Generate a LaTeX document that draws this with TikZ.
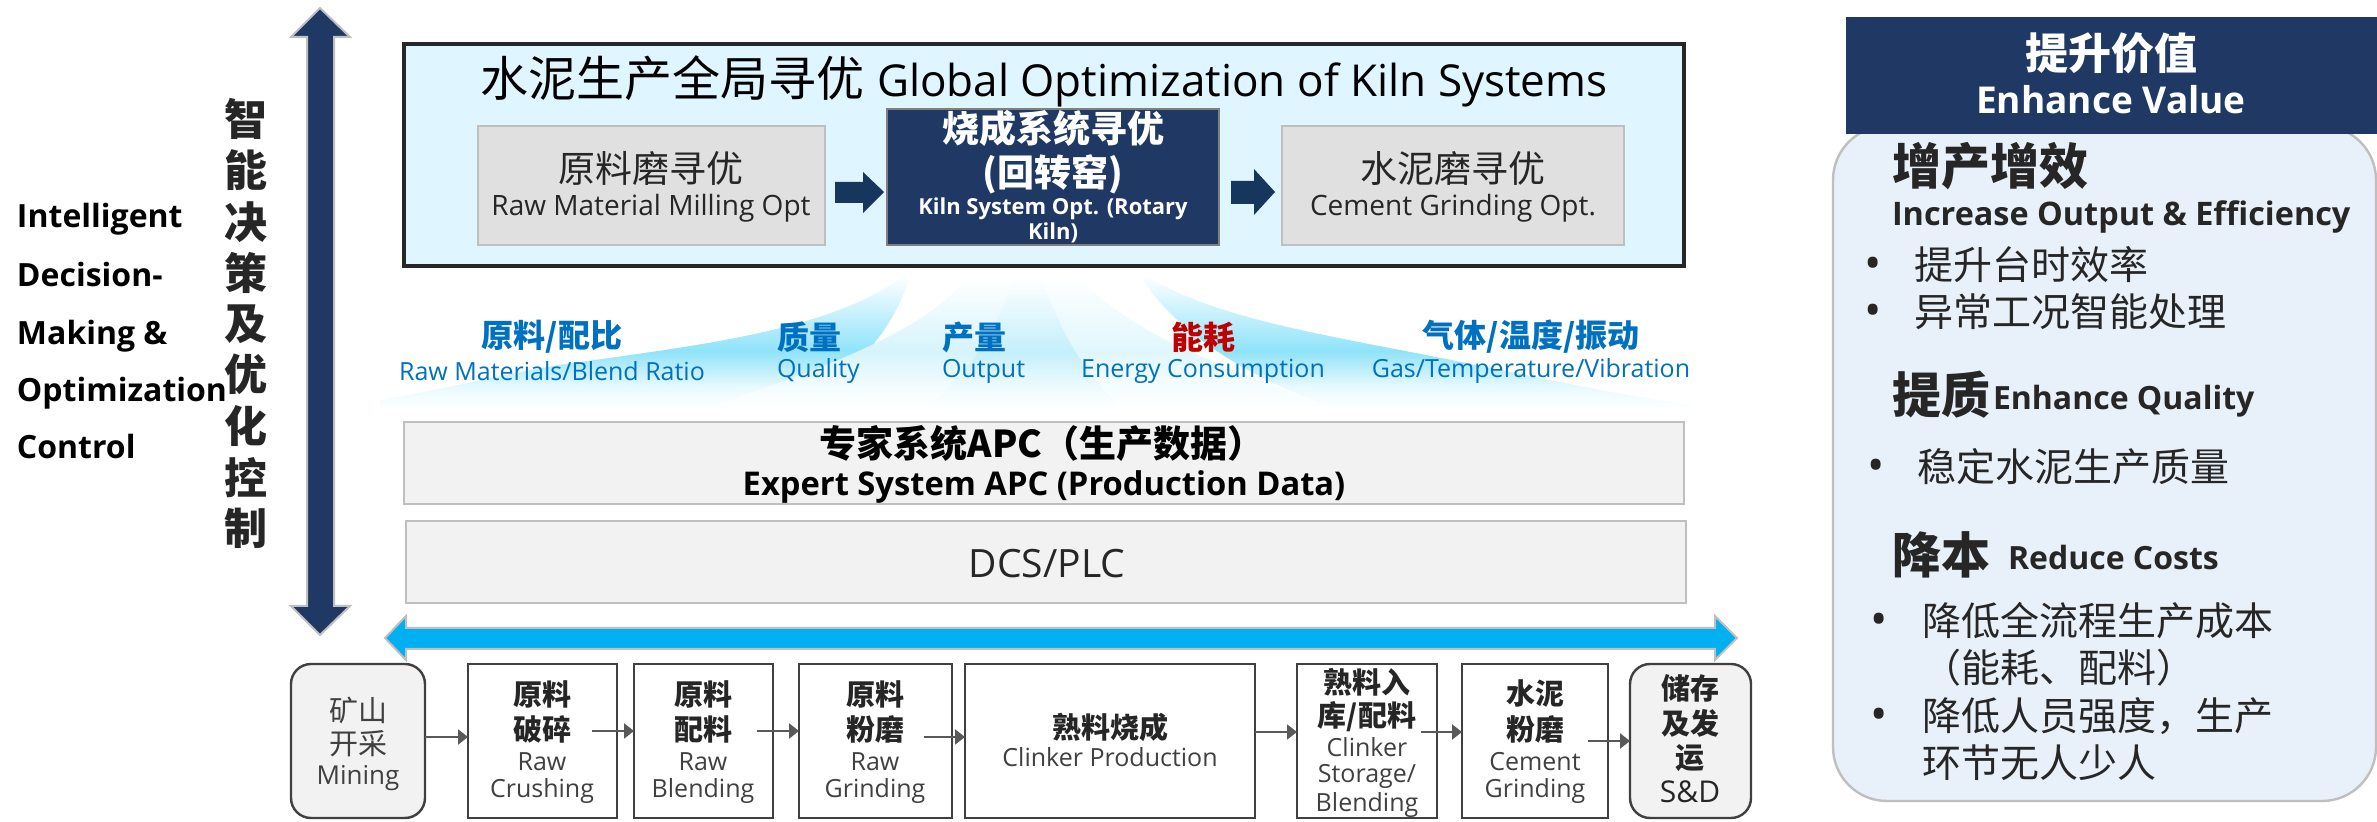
\documentclass[tikz,border=0pt]{standalone}
\usepackage{fontspec}
\setmainfont{Open Sans}
\newfontfamily\cjk{Noto Sans CJK SC}
\usetikzlibrary{arrows.meta,calc}
\definecolor{navy}{HTML}{1F3864}
\definecolor{navyb}{HTML}{17365D}
\definecolor{cyanb}{HTML}{00B0F0}
\definecolor{labblue}{HTML}{0070C0}
\definecolor{labred}{HTML}{C00000}
\definecolor{grayb}{HTML}{BFBFBF}
\definecolor{dark}{HTML}{262626}
\definecolor{mid}{HTML}{404040}
\definecolor{flowc}{HTML}{595959}
\definecolor{skyfill}{HTML}{DFF5FF}
\definecolor{greyf}{HTML}{E0E0E0}
\definecolor{layerf}{HTML}{F2F2F2}
\definecolor{navyedge}{HTML}{7F7F7F}
\definecolor{panelf}{HTML}{E8F0FA}
\definecolor{fana}{HTML}{8FE3FA}
\definecolor{fanalow}{HTML}{EAFAFE}
\definecolor{fanb}{HTML}{D6F4FC}
\definecolor{fanblow}{HTML}{F4FCFE}
\definecolor{fanc}{HTML}{C4EFFB}
\definecolor{fanclow}{HTML}{EFFBFE}
\definecolor{fand}{HTML}{E0F7FD}
\definecolor{fandlow}{HTML}{F6FDFE}
\newcommand\FANSH[3]{\pgfdeclareverticalshading{#1}{100bp}{color(0bp)=(white); color(25bp)=(white); color(33bp)=(#3); color(46bp)=(#2); color(73bp)=(white); color(100bp)=(white)}}
\FANSH{shfana}{fana}{fanalow}
\FANSH{shfanb}{fanb}{fanblow}
\FANSH{shfanc}{fanc}{fanclow}
\FANSH{shfand}{fand}{fandlow}
\newcommand\px[1]{\pgfmathsetmacro\fsv{#1/2}\fontsize{\fsv}{\fsv}\selectfont}
\newcommand\zh[1]{{\cjk #1}}
\newcommand\zb[1]{{\cjk\bfseries #1}}
% name, x, y, size, colour, text
\newcommand\TC[6]{\node[txt,text=#5] (#1) at (#2,#3) {\px{#4}#6};}
\newcommand\TL[6]{\node[txt,anchor=west,text=#5] (#1) at (#2,#3) {\px{#4}#6};}
% name, x1, y1, x2, y2, style
\newcommand\BX[6]{\node[#6,minimum width={(#4-#2)*0.5pt},minimum height={(#5-#3)*0.5pt}] (#1) at ({(#2+#4)/2},{(#3+#5)/2}) {};}
\tikzset{
  txt/.style={inner sep=0pt,outer sep=0pt},
  base/.style={rectangle,inner sep=0pt,outer sep=0pt},
  mainbox/.style={base,draw=dark,line width=2pt,fill=skyfill},
  greybox/.style={base,draw=grayb,line width=1.2pt,fill=greyf},
  navybox/.style={base,draw=navyedge,line width=1.2pt,fill=navy},
  layerbox/.style={base,draw=grayb,line width=1.2pt,fill=layerf},
  stepbox/.style={base,draw=mid,line width=1.2pt,fill=white},
  endbox/.style={base,draw=mid,line width=1.2pt,fill=layerf,rounded corners=10pt},
  flow/.style={draw=flowc,line width=1.2pt,-{Triangle[length=5pt,width=7.5pt]}},
}
\begin{document}
\begin{tikzpicture}[x=0.5pt,y=-0.5pt]
\useasboundingbox (0,0) rectangle (2377,822);
\fill[white] (0,0) rectangle (2377,822);

% fans
\shade[shading=shfana]
  (911,270) .. controls (840,330) and (700,345) .. (559,365)
  .. controls (500,375) and (440,390) .. (380,400) -- (380,410) -- (800,410)
  .. controls (860,370) and (900,320) .. (911,270) -- cycle;
\shade[shading=shfana]
  (1137,270) .. controls (1210,320) and (1330,335) .. (1476,365)
  .. controls (1550,380) and (1620,395) .. (1690,405) -- (1690,410) -- (1340,410)
  .. controls (1250,380) and (1170,330) .. (1137,270) -- cycle;
\shade[shading=shfanb]
  (969,275) .. controls (930,330) and (820,370) .. (701,410) -- (925,410)
  .. controls (970,370) and (1000,330) .. (1014,272) -- cycle;
\shade[shading=shfanc]
  (1014,272) .. controls (1000,330) and (970,370) .. (925,410) -- (1124,410)
  .. controls (1080,370) and (1055,320) .. (1041,272) -- cycle;
\shade[shading=shfand]
  (1075,272) .. controls (1130,340) and (1240,370) .. (1334,410) -- (1124,410)
  .. controls (1080,370) and (1055,320) .. (1041,272) -- cycle;

% vertical double arrow
\draw[fill=navy,draw=grayb,line width=1pt]
  (320,8) -- (350,37) -- (334,37) -- (334,606) -- (350,606) -- (320,635)
  -- (291,606) -- (307,606) -- (307,37) -- (291,37) -- cycle;

% left captions
\TL{en1}{17}{219}{32}{black}{\bfseries Intelligent}
\TL{en2}{17}{275}{32}{black}{\bfseries Decision-}
\TL{en3}{17}{336}{32}{black}{\bfseries Making \&}
\TL{en4}{17}{393}{32}{black}{\bfseries Optimization}
\TL{en5}{17}{447}{32}{black}{\bfseries Control}
\TC{v1}{246}{119}{43}{dark}{\zb{智}}
\TC{v2}{246}{170}{43}{dark}{\zb{能}}
\TC{v3}{246}{222}{43}{dark}{\zb{决}}
\TC{v4}{246}{273}{43}{dark}{\zb{策}}
\TC{v5}{246}{324}{43}{dark}{\zb{及}}
\TC{v6}{246}{374}{43}{dark}{\zb{优}}
\TC{v7}{246}{426}{43}{dark}{\zb{化}}
\TC{v8}{246}{478}{43}{dark}{\zb{控}}
\TC{v9}{246}{528}{43}{dark}{\zb{制}}

% main box
\BX{kiln}{404}{44}{1684}{266}{mainbox}
\TC{title}{1044}{81}{48}{black}{\zh{水泥生产全局寻优} {\px{44}Global Optimization of Kiln Systems}}
\BX{raw}{478}{126}{825}{245}{greybox}
\BX{rot}{887}{109}{1219}{245}{navybox}
\BX{cem}{1282}{126}{1624}{245}{greybox}
\TC{rawa}{651}{169}{37}{dark}{\zh{原料磨寻优}}
\TC{rawb}{651}{208}{28}{dark}{Raw Material Milling Opt}
\TC{rota}{1053}{128}{37}{white}{\zb{烧成系统寻优}}
\TC{rotb}{1053}{174}{37}{white}{\zb{(回转窑)}}
\TC{rotc}{1053}{209}{22}{white}{\bfseries Kiln System Opt. (Rotary}
\TC{rotd}{1053}{233}{22}{white}{\bfseries Kiln)}
\TC{cema}{1453}{169}{37}{dark}{\zh{水泥磨寻优}}
\TC{cemb}{1453}{208}{28}{dark}{Cement Grinding Opt.}
\fill[navyb] (835,182) -- (863,182) -- (863,172) -- (884,192) -- (863,213) -- (863,203) -- (835,203) -- cycle;
\fill[navyb] (1231,181) -- (1254,181) -- (1254,169) -- (1275,192) -- (1254,215) -- (1254,204) -- (1231,204) -- cycle;

% category labels
\TC{c1a}{552}{337}{32}{labblue}{\zb{原料/配比}}
\TC{c1b}{552}{371}{25}{labblue}{Raw Materials/Blend Ratio}
\TL{c2a}{777}{337}{32}{labblue}{\zb{质量}}
\TL{c2b}{777}{371}{25}{labblue}{Quality}
\TL{c3a}{942}{337}{32}{labblue}{\zb{产量}}
\TL{c3b}{942}{371}{25}{labblue}{Output}
\TC{c4a}{1203}{337}{32}{labred}{\zb{能耗}}
\TC{c4b}{1203}{371}{25}{labblue}{Energy Consumption}
\TC{c5a}{1531}{337}{32}{labblue}{\zb{气体/温度/振动}}
\TC{c5b}{1531}{371}{25}{labblue}{Gas/Temperature/Vibration}

% layers
\BX{apc}{404}{422}{1684}{504}{layerbox}
\TC{apca}{1042}{443}{37}{black}{\zb{专家系统APC（生产数据）}}
\TC{apcb}{1044}{487}{32.7}{black}{\bfseries Expert System APC (Production Data)}
\BX{dcs}{406}{521}{1686}{603}{layerbox}
\TC{dcsa}{1047}{564}{39}{dark}{DCS/PLC}

% cyan double arrow
\draw[fill=cyanb,draw=grayb,line width=1pt]
  (385,638) -- (406,616) -- (406,628) -- (1715,628) -- (1715,616) -- (1737,638)
  -- (1715,660) -- (1715,649) -- (406,649) -- (406,660) -- cycle;

% process steps
\BX{s1}{291}{664}{425}{818}{endbox}
\BX{s2}{468}{664}{617}{818}{stepbox}
\BX{s3}{634}{664}{773}{818}{stepbox}
\BX{s4}{799}{664}{952}{818}{stepbox}
\BX{s5}{965}{664}{1255}{818}{stepbox}
\BX{s6}{1297}{664}{1437}{818}{stepbox}
\BX{s7}{1462}{664}{1608}{818}{stepbox}
\BX{s8}{1630}{664}{1751}{818}{endbox}
\draw[flow] ($(s1.east)+(0,-4)$) -- ($(s2.west)+(0,-4)$);
\draw[flow] ($(s2.east)+(-25,-10)$) -- ($(s3.west)+(0,-10)$);
\draw[flow] ($(s3.east)+(-16,-10)$) -- ($(s4.west)+(0,-10)$);
\draw[flow] ($(s4.east)+(-28,-4)$) -- ($(s5.west)+(0,-4)$);
\draw[flow] ($(s5.east)+(0,-9)$) -- ($(s6.west)+(0,-9)$);
\draw[flow] ($(s6.east)+(-16,-9)$) -- ($(s7.west)+(0,-9)$);
\draw[flow] ($(s7.east)+(-20,0)$) -- ($(s8.west)+(0,0)$);

\TC{s1a}{358}{710}{29}{mid}{\zh{矿山}}
\TC{s1b}{358}{744}{29}{mid}{\zh{开采}}
\TC{s1c}{358}{778}{26}{mid}{Mining}
\TC{s2a}{542}{694}{29}{dark}{\zb{原料}}
\TC{s2b}{542}{729}{29}{dark}{\zb{破碎}}
\TC{s2c}{542}{762}{25}{mid}{Raw}
\TC{s2d}{542}{791}{25}{mid}{Crushing}
\TC{s3a}{703}{694}{29}{dark}{\zb{原料}}
\TC{s3b}{703}{729}{29}{dark}{\zb{配料}}
\TC{s3c}{703}{762}{25}{mid}{Raw}
\TC{s3d}{703}{791}{25}{mid}{Blending}
\TC{s4a}{875}{694}{29}{dark}{\zb{原料}}
\TC{s4b}{875}{729}{29}{dark}{\zb{粉磨}}
\TC{s4c}{875}{762}{25}{mid}{Raw}
\TC{s4d}{875}{791}{25}{mid}{Grinding}
\TC{s5a}{1110}{727}{29}{dark}{\zb{熟料烧成}}
\TC{s5b}{1110}{757}{25}{mid}{Clinker Production}
\TC{s6a}{1367}{682}{29}{dark}{\zb{熟料入}}
\TC{s6b}{1367}{717}{29}{dark}{\zb{库/配料}}
\TC{s6c}{1367}{747}{25}{mid}{Clinker}
\TC{s6d}{1367}{776}{25}{mid}{Storage/}
\TC{s6e}{1367}{805}{25}{mid}{Blending}
\TC{s7a}{1535}{694}{29}{dark}{\zb{水泥}}
\TC{s7b}{1535}{729}{29}{dark}{\zb{粉磨}}
\TC{s7c}{1535}{762}{25}{mid}{Cement}
\TC{s7d}{1535}{791}{25}{mid}{Grinding}
\TC{s8a}{1690}{688}{29}{dark}{\zb{储存}}
\TC{s8b}{1690}{723}{29}{dark}{\zb{及发}}
\TC{s8c}{1690}{758}{29}{dark}{\zb{运}}
\TC{s8d}{1690}{792}{30}{dark}{S\&D}

% value panel
\BX{panel}{1833}{126}{2376}{801}{base,draw=grayb,line width=1.2pt,fill=panelf,rounded corners=27pt}
\BX{head}{1846}{17}{2377}{134}{base,fill=navy}
\TC{heada}{2111}{53}{43}{white}{\zb{提升价值}}
\TC{headb}{2111}{100}{37}{white}{\bfseries Enhance Value}
\TL{p1a}{1892}{166}{49}{dark}{\zb{增产增效}}
\TL{p1b}{1892}{217}{32.4}{dark}{\bfseries Increase Output \& Efficiency}
\TC{b1}{1873}{268}{46}{dark}{•}
\TL{p1c}{1914}{265}{39}{dark}{\zh{提升台时效率}}
\TC{b2}{1873}{315}{46}{dark}{•}
\TL{p1d}{1914}{312}{39}{dark}{\zh{异常工况智能处理}}
\TL{p2a}{1892}{395}{49}{dark}{\zb{提质}}
\TL{p2b}{1993}{401}{32}{dark}{\bfseries Enhance Quality}
\TC{b3}{1876}{470}{46}{dark}{•}
\TL{p2c}{1917}{467}{39}{dark}{\zh{稳定水泥生产质量}}
\TL{p3a}{1892}{555}{49}{dark}{\zb{降本}}
\TL{p3b}{2008}{558}{32}{dark}{\bfseries Reduce Costs}
\TC{b4}{1879}{624}{46}{dark}{•}
\TL{p3c}{1922}{621}{39}{dark}{\zh{降低全流程生产成本}}
\TL{p3d}{1922}{668}{39}{dark}{\zh{（能耗、配料）}}
\TC{b5}{1879}{719}{46}{dark}{•}
\TL{p3e}{1922}{716}{39}{dark}{\zh{降低人员强度，生产}}
\TL{p3f}{1922}{763}{39}{dark}{\zh{环节无人少人}}
\end{tikzpicture}
\end{document}
